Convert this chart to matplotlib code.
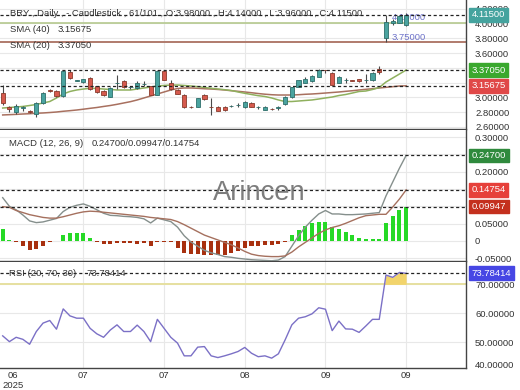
import numpy as np
import matplotlib
matplotlib.use("Agg")
import matplotlib.pyplot as plt

plt.rcParams['font.family'] = ['Liberation Sans', 'DejaVu Sans']
FS = 6.8

# daily candles, oldest first
opens = [3.055, 2.865, 2.80, 2.855, 2.82, 2.77, 2.93, 3.10, 3.085, 3.02,
         3.345, 3.225, 3.205, 3.26, 3.15, 3.09, 3.01, 3.19, 3.22, 3.135,
         3.125, 3.18, 3.15, 3.035, 3.355, 3.19, 3.095, 3.03, 2.875, 2.87,
         3.03, 2.87, 2.87, 2.875, 2.88, 2.895, 2.87, 2.93, 2.865, 2.835,
         2.845, 2.86, 2.91, 3.00, 3.145, 3.195, 3.215, 3.28, 3.37, 3.335,
         3.20, 3.235, 3.23, 3.25, 3.235, 3.235, 3.39, 3.80, 4.00, 4.01, 3.98]
highs = [3.167, 2.88, 2.91, 2.885, 2.83, 2.94, 3.07, 3.11, 3.10, 3.37,
         3.37, 3.24, 3.255, 3.27, 3.16, 3.095, 3.135, 3.30, 3.235, 3.15,
         3.22, 3.22, 3.16, 3.37, 3.37, 3.23, 3.12, 3.04, 2.885, 2.99,
         3.04, 2.985, 2.88, 2.885, 2.90, 2.93, 2.95, 2.94, 2.88, 2.88,
         2.855, 2.88, 3.015, 3.14, 3.24, 3.27, 3.30, 3.38, 3.375, 3.345,
         3.285, 3.26, 3.24, 3.255, 3.32, 3.34, 3.425, 4.11, 4.06, 4.11, 4.14]
lows = [2.897, 2.80, 2.78, 2.815, 2.79, 2.74, 2.91, 3.075, 3.00, 3.01,
        3.25, 3.215, 3.20, 3.10, 3.06, 3.02, 3.00, 3.11, 3.13, 3.12,
        3.12, 3.16, 3.03, 3.03, 3.23, 3.10, 3.04, 2.86, 2.86, 2.865,
        2.965, 2.765, 2.81, 2.82, 2.87, 2.865, 2.86, 2.865, 2.84, 2.825,
        2.83, 2.835, 2.90, 2.99, 3.14, 3.19, 3.21, 3.275, 3.33, 3.165,
        3.195, 3.20, 3.215, 3.21, 3.19, 3.22, 3.31, 3.75, 3.985, 4.00, 3.96]
closes = [2.92, 2.84, 2.89, 2.865, 2.80, 2.93, 3.06, 3.09, 3.02, 3.36,
          3.26, 3.23, 3.25, 3.115, 3.07, 3.035, 3.13, 3.195, 3.14, 3.14,
          3.20, 3.185, 3.035, 3.355, 3.235, 3.11, 3.05, 2.87, 2.87, 2.985,
          2.975, 2.865, 2.82, 2.83, 2.885, 2.90, 2.94, 2.87, 2.87, 2.87,
          2.84, 2.865, 3.01, 3.135, 3.235, 3.245, 3.285, 3.365, 3.365, 3.17,
          3.28, 3.24, 3.225, 3.215, 3.24, 3.335, 3.35, 4.02, 4.04, 4.095, 4.115]

sma20 = [2.856, 2.863, 2.870, 2.877, 2.890, 2.904, 2.924, 2.944, 2.992, 3.046,
         3.080, 3.100, 3.113, 3.123, 3.120, 3.113, 3.107, 3.100, 3.100, 3.100,
         3.113, 3.127, 3.140, 3.154, 3.161, 3.167, 3.167, 3.161, 3.154, 3.145,
         3.134, 3.123, 3.113, 3.104, 3.093, 3.073, 3.055, 3.039, 3.023, 3.012,
         2.992, 2.965, 2.944, 2.944, 2.951, 2.958, 2.965, 2.978, 2.992, 3.005,
         3.025, 3.039, 3.059, 3.080, 3.086, 3.107, 3.134, 3.208, 3.262, 3.316, 3.3705]
sma40 = [2.762, 2.766, 2.770, 2.775, 2.779, 2.785, 2.789, 2.795, 2.802, 2.812,
         2.820, 2.829, 2.840, 2.852, 2.863, 2.877, 2.890, 2.906, 2.924, 2.942,
         2.965, 2.992, 3.019, 3.046, 3.073, 3.100, 3.120, 3.127, 3.127, 3.123,
         3.117, 3.113, 3.107, 3.100, 3.090, 3.082, 3.073, 3.063, 3.052, 3.043,
         3.036, 3.032, 3.032, 3.032, 3.036, 3.042, 3.046, 3.052, 3.059, 3.066,
         3.073, 3.082, 3.090, 3.100, 3.109, 3.117, 3.127, 3.136, 3.145, 3.154, 3.15675]

macd = [0.125, 0.100, 0.090, 0.075, 0.058, 0.053, 0.055, 0.060, 0.065, 0.085,
        0.097, 0.103, 0.107, 0.100, 0.090, 0.080, 0.074, 0.073, 0.071, 0.070,
        0.068, 0.064, 0.052, 0.066, 0.061, 0.056, 0.040, 0.015, -0.003, -0.015,
        -0.027, -0.034, -0.039, -0.045, -0.047, -0.050, -0.052, -0.054, -0.055, -0.056,
        -0.057, -0.055, -0.045, -0.015, 0.015, 0.040, 0.060, 0.078, 0.088, 0.078,
        0.078, 0.076, 0.076, 0.077, 0.078, 0.080, 0.082, 0.130, 0.170, 0.210, 0.247]
signal = [0.099, 0.097, 0.088, 0.082, 0.076, 0.072, 0.068, 0.066, 0.066, 0.070,
          0.075, 0.080, 0.084, 0.086, 0.085, 0.083, 0.081, 0.079, 0.077, 0.075,
          0.073, 0.071, 0.068, 0.066, 0.064, 0.062, 0.056, 0.047, 0.037, 0.027,
          0.017, 0.010, 0.003, -0.004, -0.011, -0.020, -0.030, -0.038, -0.042, -0.044,
          -0.045, -0.045, -0.043, -0.032, -0.017, -0.004, 0.009, 0.022, 0.032, 0.039,
          0.044, 0.051, 0.059, 0.067, 0.073, 0.075, 0.077, 0.077, 0.098, 0.121, 0.14754]
hist = [0.036, 0.004, -0.002, -0.015, -0.026, -0.024, -0.013, -0.002, -0.001, 0.016,
        0.022, 0.022, 0.022, 0.010, -0.002, -0.010, -0.010, -0.007, -0.007, -0.007,
        -0.010, -0.007, -0.014, -0.002, -0.002, -0.003, -0.019, -0.034, -0.038, -0.038,
        -0.041, -0.041, -0.041, -0.040, -0.036, -0.028, -0.021, -0.013, -0.013, -0.012,
        -0.012, -0.010, -0.002, 0.017, 0.032, 0.043, 0.051, 0.056, 0.056, 0.039,
        0.034, 0.025, 0.017, 0.010, 0.005, 0.005, 0.005, 0.053, 0.072, 0.089, 0.09947]

rsi = [52.2, 50.2, 51.7, 51.0, 49.3, 53.7, 56.6, 57.5, 54.5, 61.5,
       59.1, 58.3, 58.3, 54.8, 52.9, 51.7, 54.2, 56.0, 53.7, 53.7,
       55.9, 53.7, 50.2, 57.9, 54.8, 51.7, 49.7, 45.3, 45.3, 48.3,
       48.5, 45.3, 44.7, 45.3, 46.0, 46.8, 48.2, 46.2, 45.0, 45.3,
       44.5, 46.0, 50.8, 56.0, 58.3, 58.8, 59.8, 61.9, 61.4, 54.0,
       57.3, 54.6, 54.5, 53.4, 55.6, 57.9, 57.9, 73.2, 72.4, 74.1, 73.78414]

date_ticks = [12, 24, 36, 48, 60]
date_labels = ["07", "07", "08", "09", "09"]

x = np.arange(len(closes))
o = np.array(opens); c = np.array(closes)
rsi = np.array(rsi)


def px(xp, yp):
    return xp / 520, 1 - yp / 390


def style(ax, lo, hi, ticks, fmt, hidden=()):
    ax.set_xlim(-0.4, 68.9)
    ax.set_ylim(lo, hi)
    ax.yaxis.tick_right()
    ax.set_yticks(ticks)
    # labels sitting under the value tags are left blank, the grid stays
    ax.set_yticklabels(["" if any(abs(t - hd) < 1e-9 for hd in hidden) else fmt(t) for t in ticks])
    ax.tick_params(axis='y', length=0, pad=6.5, labelsize=FS, labelcolor='#333')
    ax.set_xticks(date_ticks)
    ax.tick_params(axis='x', length=0, labelbottom=False)
    ax.grid(True, color='#e8e8e8', lw=0.8)
    ax.set_axisbelow(True)
    for s in ['top', 'left']:
        ax.spines[s].set_visible(False)
    for s in ['right', 'bottom']:
        ax.spines[s].set_color('#444')
        ax.spines[s].set_linewidth(1.0)


def tag(ax, v, s, bg):
    ax.text(1.0125, v, s, transform=ax.get_yaxis_transform(), ha='left', va='center',
            fontsize=FS, color='white', clip_on=False, zorder=10,
            bbox=dict(boxstyle='square,pad=0.25', fc=bg, ec=bg))


def dashed(ax, v):
    ax.axhline(v, color='#222', lw=0.9, ls=(0, (2.5, 2)), zorder=5)


fig = plt.figure(figsize=(5.2, 3.9), dpi=100)
W = 466 / 520
ax1 = fig.add_axes([0, 1 - 129 / 390, W, 129 / 390])
ax2 = fig.add_axes([0, 1 - 261 / 390, W, 131 / 390])
ax3 = fig.add_axes([0, 1 - 368 / 390, W, 106 / 390])

# ---- price panel
style(ax1, 2.572, 4.318, np.arange(2.6, 4.21, 0.2), lambda t: f"{t:.5f}", hidden=(3.2, 3.4))
ax1.axhline(4.0, color='#b5c98e', lw=1.2, zorder=1)
ax1.axhline(3.75, color='#b07b6c', lw=1.4, zorder=1)
ax1.plot(x, sma40, color='#a8705f', lw=1.1, zorder=2)
ax1.plot(x, sma20, color='#8fb05e', lw=1.1, zorder=2)
up = c >= o
ax1.vlines(x, lows, highs, color='#4a4a4a', lw=0.8, zorder=3)
ax1.bar(x, np.maximum(np.abs(c - o), 0.004), bottom=np.minimum(o, c), width=0.62,
        color=np.where(up, '#4aa39f', '#d65a4e'), edgecolor=np.where(up, '#2e6f6b', '#8a3b2c'),
        lw=0.6, zorder=4)
ax1.text(57.9, 4.14, "4.14000", va='top', ha='left', fontsize=FS, color='#6d72c9', zorder=3.5)
ax1.text(57.9, 3.75, "3.75000", va='bottom', ha='left', fontsize=FS, color='#6d72c9', zorder=3.5)
for v in [closes[-1], sma20[-1], sma40[-1]]:
    dashed(ax1, v)
tag(ax1, closes[-1], f"{closes[-1]:.5f}", '#45a39e')
tag(ax1, sma20[-1], f"{sma20[-1]:.5f}", '#3aa82e')
tag(ax1, sma40[-1], f"{sma40[-1]:.5f}", '#e04848')

# ---- MACD panel
style(ax2, -0.0577, 0.3202, np.arange(-0.05, 0.301, 0.05),
      lambda t: "0" if abs(t) < 1e-9 else f"{t:.5f}", hidden=(0.10, 0.15, 0.25))
h = np.array(hist)
ax2.bar(x, h, width=0.6, color=np.where(h >= 0, '#26d926', '#a8300f'), zorder=2)
ax2.plot(x, macd, color='#858f8c', lw=1.0, zorder=3)
ax2.plot(x, signal, color='#a5705e', lw=1.0, zorder=3)
for v in [macd[-1], signal[-1], hist[-1]]:
    dashed(ax2, v)
tag(ax2, macd[-1], f"{macd[-1]:.5f}", '#2f8a3d')
tag(ax2, signal[-1], f"{signal[-1]:.5f}", '#e6403a')
tag(ax2, hist[-1], f"{hist[-1]:.5f}", '#c4301e')

# ---- RSI panel
style(ax3, 41.1, 77.7, [50, 60, 70], lambda t: f"{t:.5f}")
ax3.axhline(70, color='#e6e0a0', lw=1.4, zorder=1)
ax3.fill_between(x, 70, rsi, where=rsi >= 70, interpolate=True, color='#f2d46c', lw=0, zorder=2)
ax3.plot(x, rsi, color='#7b70c6', lw=1.0, zorder=3)
dashed(ax3, rsi[-1])
tag(ax3, rsi[-1], f"{rsi[-1]:.5f}", '#4646e4')
ax3.set_xticklabels(date_labels)
ax3.tick_params(axis='x', labelbottom=True, labelsize=FS, labelcolor='#333', pad=2)
fig.text(*px(475, 366), "40.00000", ha='left', va='center', fontsize=FS, color='#333')
fig.text(*px(13, 376), "06", ha='center', va='center', fontsize=FS, color='#333')
fig.text(*px(13, 385), "2025", ha='center', va='center', fontsize=FS, color='#333')

# ---- legends / captions
fig.text(*px(10, 13), "BRY , Daily , - Candlestick , 61/101 , O:3.98000 , H:4.14000 , L:3.96000 , C:4.11500",
         va='center', fontsize=FS, color='#333')
fig.text(*px(10, 30), "SMA (40)", va='center', fontsize=FS, color='#333')
fig.text(*px(58, 30), f"{sma40[-1]:.5f}", va='center', fontsize=FS, color='#333')
fig.text(*px(10, 46), "SMA (20)", va='center', fontsize=FS, color='#333')
fig.text(*px(58, 46), f"{sma20[-1]:.5f}", va='center', fontsize=FS, color='#333')
fig.text(*px(9, 143), "MACD (12, 26, 9)", va='center', fontsize=FS, color='#333')
fig.text(*px(92, 143), f"{macd[-1]:.5f}/{hist[-1]:.5f}/{signal[-1]:.5f}", va='center', fontsize=FS, color='#333')
fig.text(*px(9, 274), "RSI (20, 70, 30)", va='center', fontsize=FS, color='#333')
fig.text(*px(86, 274), f"{rsi[-1]:.5f}", va='center', fontsize=FS, color='#333')
fig.text(*px(259.5, 193), "Arincen", ha='center', va='center', fontsize=19.7, color='#6f6f6f', alpha=0.9)

fig.savefig("out.png", dpi=100)
